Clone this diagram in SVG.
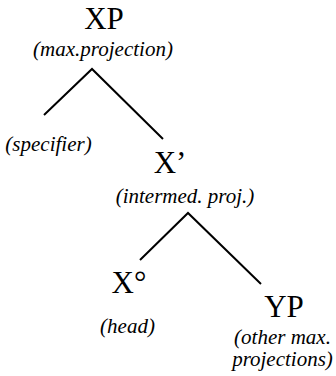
<svg xmlns="http://www.w3.org/2000/svg" width="336" height="376" viewBox="0 0 336 376">
<style>
.lbl{font-family:"Liberation Serif","Times New Roman",serif;font-size:31px;fill:#000;text-anchor:middle}
.sub{font-family:"Liberation Serif","Times New Roman",serif;font-size:21px;font-style:italic;fill:#000;text-anchor:middle}
.edge{stroke:#000;stroke-width:2;fill:none}
</style>
<rect width="336" height="376" fill="#fff"/>
<g id="connectors">
<polyline class="edge" points="44,115 92,69 163,139"/>
<polyline class="edge" points="140,260 188,213 261,284"/>
</g>
<g id="XP"><text class="lbl" x="104" y="29">XP</text><text class="sub" x="103" y="56">(max.projection)</text></g>
<g id="spec"><text class="sub" x="48.5" y="151">(specifier)</text></g>
<g id="Xbar"><text class="lbl" x="170" y="173">X’</text><text class="sub" x="185" y="203">(intermed. proj.)</text></g>
<g id="Xhead"><text class="lbl" x="129" y="293">X°</text><text class="sub" x="127.5" y="333">(head)</text></g>
<g id="YP"><text class="lbl" x="284" y="317">YP</text><text class="sub" x="282.5" y="344">(other max.</text><text class="sub" x="282.5" y="366">projections)</text></g>
</svg>
